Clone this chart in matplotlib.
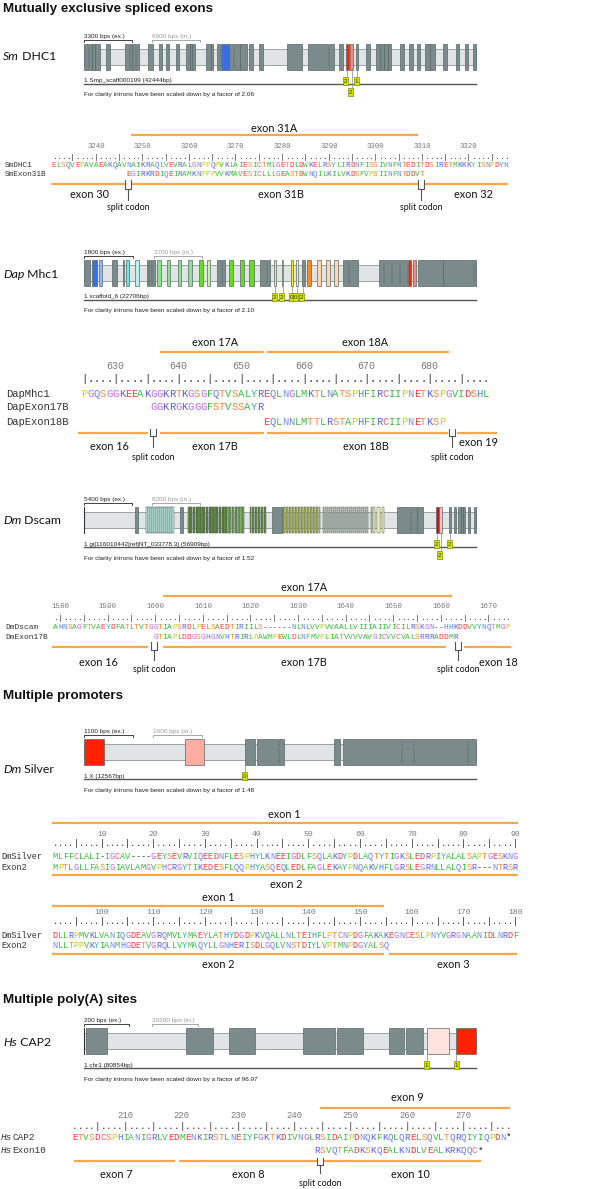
import matplotlib.pyplot as plt
from matplotlib.patches import Rectangle

W, H = 600, 1189

# ---------------- gene structures ----------------
# exon positions in map units along the drawn (intron-scaled) gene track
TRACK = (252, 1428)

sm_exons = [(252, 265, 'g'), (266, 275, 'g'), (276, 285, 'g'), (286, 300, 'g'), (318, 330, 'g'),
            (375, 388, 'g'), (389, 396, 'g'), (397, 405, 'g'), (408, 418, 'g'), (444, 460, 'g'),
            (476, 486, 'g'), (497, 507, 'g'), (528, 538, 'g'), (559, 570, 'g'), (571, 576, 'g'),
            (577, 585, 'g'), (619, 632, 'g'), (633, 640, 'g'), (650, 660, 'g'), (662, 686, 'blue'),
            (688, 700, 'g'), (701, 720, 'g'), (721, 740, 'g'), (748, 760, 'g'), (777, 790, 'g'),
            (862, 905, 'g'), (924, 985, 'g'), (988, 1003, 'g'), (1018, 1028, 'g'), (1037, 1047, 'red'),
            (1050, 1060, 'lred'), (1068, 1075, 'g'), (1098, 1110, 'g'), (1128, 1140, 'g'),
            (1141, 1152, 'g'), (1153, 1163, 'g'), (1164, 1174, 'g'), (1199, 1212, 'g'),
            (1228, 1240, 'g'), (1250, 1260, 'g'), (1276, 1290, 'g'), (1291, 1305, 'g'),
            (1329, 1340, 'g'), (1367, 1377, 'g'), (1395, 1405, 'g'), (1418, 1428, 'g')]
sm_marks = [(1042, 1030, 0, '2'), (1055, 1043, 1, '2'), (1071.5, 1062, 0, '1')]

dap_exons = [(252, 270, 'g'), (276, 290, 'blue'), (296, 307, 'lblue'), (337, 350, 'g'), (368, 373, 'g'),
             (378, 388, 'cyan'), (405, 416, 'lcyan'), (440, 445, 'g'), (447, 452, 'g'), (455, 464, 'g'),
             (472, 482, 'lgreen'), (500, 510, 'lgreen'), (533, 543, 'lgreen'), (565, 575, 'lgreen'),
             (597, 608, 'bgreen'), (620, 630, 'pgreen'), (652, 664, 'g'), (667, 675, 'g'),
             (687, 700, 'bgreen'), (720, 733, 'bgreen'), (748, 762, 'bgreen'), (781, 797, 'g'),
             (800, 810, 'g'), (822, 828, 'pyg'), (845, 850, 'pyg'), (872, 878, 'yellow'),
             (888, 895, 'pyellow'), (905, 915, 'g'), (922, 932, 'orange'), (952, 962, 'peach'),
             (978, 990, 'peach'), (1003, 1013, 'peach'), (1030, 1045, 'g'), (1047, 1073, 'g'),
             (1138, 1150, 'g'), (1153, 1173, 'g'), (1175, 1197, 'g'), (1200, 1220, 'g'),
             (1224, 1232, 'red'), (1238, 1247, 'lred'), (1253, 1328, 'g'), (1330, 1420, 'g'),
             (1422, 1428, 'g')]
dap_marks = [(825, 815, 0, '2'), (847.5, 838, 0, '2'), (875, 866, 0, '0'), (891.5, 880, 0, '0'),
             (910, 897, 0, '2')]

dscam_exons = [(405, 415, 'g'), (541, 548, 'g'), (815, 845, 'g'), (1190, 1230, 'g'), (1232, 1250, 'g'),
               (1252, 1268, 'g'), (1308, 1316, 'dred'), (1318, 1325, 'pink'), (1347, 1353, 'g'),
               (1362, 1368, 'g'), (1375, 1382, 'g'), (1383, 1389, 'g'), (1390, 1395, 'g'),
               (1405, 1410, 'g'), (1422, 1428, 'g')]
dscam_cyan = [437, 443, 449, 455, 462, 468, 474, 480, 486, 492, 498, 504, 510, 516]
dscam_green_dark = [565, 569, 573.5, 578, 582, 586.5, 591, 595, 599.5, 604, 608, 612.5, 617, 621,
                    625.5, 630, 634, 638.5, 643, 647, 651.5, 656, 660, 664.5, 669, 673, 677.5]
dscam_green_light = [682, 686, 690.5, 695, 699, 703.5, 708, 712, 716.5, 721, 725, 729.5]
dscam_green2 = [750, 754.5, 759, 763.5, 768, 772.5, 777, 781.5, 786, 790.5, 795]
dscam_yellow = [848, 852.5, 857, 861.5, 866, 870.5, 875, 879.5, 884, 888.5, 893, 897.5, 902, 906.5,
                911, 915.5, 920, 924.5, 929, 933.5, 938, 942.5, 947, 951.5, 956]
dscam_pale = [968, 974, 980, 986, 992, 998, 1004, 1010, 1016, 1022, 1028, 1034, 1040, 1046, 1052,
              1058, 1064, 1070, 1076, 1082, 1088, 1094, 1100, 1112, 1119]
dscam_pale_wide = [1132, 1145]
dscam_marks = [(1312, 1303, 0, '2'), (1350, 1340, 0, '2'), (1321.5, 1310, 1, '2')]

silver_exons = [(252, 312, 'red'), (555, 613, 'spink'), (735, 765, 'g'), (770, 833, 'g'), (838, 853, 'g'),
                (1003, 1020, 'g'), (1030, 1203, 'g'), (1207, 1238, 'g'), (1242, 1400, 'g'),
                (1405, 1428, 'g')]
silver_marks = [(735, 726, 0, '0')]

cap2_exons = [(258, 320, 'g'), (557, 638, 'g'), (687, 765, 'g'), (910, 1005, 'g'), (1010, 1088, 'g'),
              (1168, 1212, 'g'), (1218, 1268, 'g'), (1280, 1347, 'ppink'), (1368, 1428, 'red')]
cap2_marks = [(1280, 1272, 0, '1'), (1368, 1362, 0, '1')]

# ---------------- alignments ----------------
sm_first = 3231
sm_names = ['SmDHC1', 'SmExon31B']
sm_seqs = ['ELSQVEPAVAEAKQAVNAIKRAQLVEVRALGNPPQPVKLAIESICTMLGETDLDWKELRSYLIRDNFISSIVNFNTEDITDSIRETMKKKYISNPDYN',
           'EGIRKRDIQEIRAMKNPPPVVKMAVESICLLLGEASTDWNQILKILVKDSFVPSIINFNTDDVT']
sm_offsets = [0, 16]
sm_top = [('exon 31A', 3247.5, 3309.2, 3278.3)]
sm_bottom = [(3230.3, 3328.5)]
sm_labels = [('exon 30', 3238.6), ('exon 31B', 3279.8), ('exon 32', 3321.1)]
sm_splits = [3246.9, 3309.8]

dap_first = 625
dap_names = ['DapMhc1', 'DapExon17B', 'DapExon18B']
dap_seqs = ['PGQSGGKEEAKGGKRTKGSGFQTVSALYREQLNGLMKTLNATSPHFIRCIIPNETKSPGVIDSHL',
            'GGKRGKGGGFSTVSSAYR',
            'EQLNNLMTTLRSTAPHFIRCIIPNETKSP']
dap_offsets = [0, 11, 29]
dap_top = [('exon 17A', 637.1, 653.6, 645.8), ('exon 18A', 654.2, 683.1, 669.8)]
dap_bottom = [(624.0, 635.2), (637.1, 653.6), (654.2, 682.9), (684.4, 690.8)]
dap_labels = [('exon 16', 629.1), ('exon 17B', 645.8), ('exon 18B', 669.8), ('exon 19', 687.8)]
dap_splits = [636.0, 683.6]

dm_first = 1579
dm_names = ['DmDscam', 'DmExon17B']
dm_seqs = ['AHNSAGFTVAEYDFATLTVTGGTIAPSRDLPELSAEDTIRIILS------NLNLVVPVVAALLVIIIAIIVICILRSKGN--HHKDDVVYNQTMGP',
           'GTIAPLDDGSGHGNVHTRIRLPAWMPEWLDLNFMVPLIATVVVVAVGICVVCVALSRRRADDMR']
dm_offsets = [0, 21]
dm_top = [('exon 17A', 1601.5, 1662.2, 1631.2)]
dm_bottom = [(1578.2, 1598.5), (1601.5, 1661.0), (1664.7, 1674.7)]
dm_labels = [('exon 16', 1588.0), ('exon 17B', 1631.1), ('exon 18', 1672.0)]
dm_splits = [1599.7, 1663.6]

silver_names = ['DmSilver', 'Exon2']
silver1_first = 1
silver1_seqs = ['MLFFCLALI-IGCAV----GEYSEVRVIQEEDNFLESPHYLKNEEIGDLFSQLAKDYPDLAQTYTIGKSLEDRPIYALALSAPTGESKNG',
                'MPTLGLLFASIGIAVLAMGVPHCRGYTIKEDESFLQQPHYASQEQLEDLFAGLEKAYPNQAKVHFLGRSLEGRNLLALQISR---NTRSR']
silver1_top = [('exon 1', 0.43, 90.5, 45.3)]
silver1_bottom = [(0.43, 90.5)]
silver1_labels = [('exon 2', 45.6)]
silver2_first = 91
silver2_seqs = ['DLLRPMVKLVANIQGDEAVGRQMVLYMAEYLATHYDGDPKVQALLNLTEIHFLPTCNPDGFAKAKEGNCESLPNYVGRGNAANIDLNRDF',
                'NLLTPPVKYIANMHGDETVGRQLLVYMAQYLLGNHERISDLGQLVNSTDIYLVPTMNPDGYALSQ']
silver2_top = [('exon 1', 90.4, 154.6, 122.6)]
silver2_bottom = [(90.4, 154.6), (155.5, 180.3)]
silver2_labels = [('exon 2', 122.6), ('exon 3', 168.0)]

cap2_first = 201
cap2_names = [('Hs', 'CAP2'), ('Hs', 'Exon10')]
cap2_seqs = ['ETVSDCSPHIANIGRLVEDMENKIRSTLNEIYFGKTKDIVNGLRSIDAIPDNQKFKQLQRELSQVLTQRQIYIQPDN*',
             'RSVQTFADKSKQEALKNDLVEALKRKQQC*']
cap2_offsets = [0, 43]
cap2_top = [('exon 9', 244.5, 278.2, 260.0)]
cap2_bottom = [(200.8, 218.8), (219.4, 273.2)]
cap2_labels = [('exon 7', 208.4), ('exon 8', 231.8), ('exon 10', 260.5)]
cap2_splits = [244.5]

# ---------------- styles ----------------
EXON_COL = {'g': '#7b8b8b', 'blue': '#3b6fe0', 'lblue': '#9ab6f2', 'cyan': '#6ee6e6',
            'lcyan': '#b8f2ee', 'lgreen': '#8ee28e', 'bgreen': '#66dd22', 'pgreen': '#c4f0a8',
            'pyg': '#d6f09a', 'yellow': '#eef020', 'pyellow': '#f6f6a0', 'orange': '#ff8a1e',
            'peach': '#ffd6ae', 'red': '#ff2200', 'lred': '#f28a80', 'dred': '#cc1111',
            'pink': '#f2c4c4', 'spink': '#ffaca2', 'ppink': '#fde3de'}
AA_COL = {}
for a in 'AVLIMFW':
    AA_COL[a] = '#3dbb3d'
for a in 'DE':
    AA_COL[a] = '#ee3b3b'
for a in 'KR':
    AA_COL[a] = '#5a5aee'
for a in 'ST':
    AA_COL[a] = '#f28a3a'
AA_COL.update({'H': '#4f86e8', 'N': '#7b8cf0', 'Q': '#6678ee', 'G': '#c066ee', 'P': '#cccc18',
               'C': '#f0607a', 'Y': '#2fb5a5', '-': '#444444', '*': '#222222'})
ORANGE = '#f7a94a'
MONO = 'Liberation Mono'
SANS = 'Liberation Sans'
LAB = 'Lato'
EXON_FS = 7.8
SMALL_FS = 4.6

fig = plt.figure(figsize=(6, 11.89), dpi=100)
base = fig.add_axes([0, 0, 1, 1])
base.set_xlim(0, W)
base.set_ylim(H, 0)
base.axis('off')
renderer = fig.canvas.get_renderer()


def layer(u_a, px_a, u_b, px_b):
    # full-figure axes: data x u_a sits at pixel px_a, u_b at px_b; y in pixels
    ax = fig.add_axes([0, 0, 1, 1])
    k = (u_b - u_a) / (px_b - px_a)
    ax.set_xlim(u_a - px_a * k, u_a + (W - px_a) * k)
    ax.set_ylim(H, 0)
    ax.axis('off')
    ax.patch.set_visible(False)
    return ax


def mixed(x, y, it, rest, **kw):
    t = base.text(x, y, it, style='italic', **kw)
    bb = t.get_window_extent(renderer=renderer)
    base.text(x + bb.width, y, rest, **kw)


def gene_track(T, sp, gname, label_y, exons, marks, gid, factor, ex_bar, in_bar,
               clusters=(), start_line=False):
    ax = layer(TRACK[0], 84, TRACK[1], 476)
    mixed(3, label_y, sp, gname, fontsize=8.8, family=LAB, va='center', color='#111')
    # scale bars
    x0, x1 = TRACK[0], ex_bar[0]
    ax.plot([x0, x0, x1, x1], [T - 2.5, T - 4.5, T - 4.5, T - 2.5], color='#222', lw=0.6)
    ax.text(x0, T - 6.3, ex_bar[1], fontsize=SMALL_FS, family=SANS, color='#222', va='baseline')
    x0, x1 = in_bar[0], in_bar[1]
    ax.plot([x0, x0, x1, x1], [T - 2.5, T - 4.5, T - 4.5, T - 2.5], color='#999', lw=0.6)
    ax.text(x0, T - 6.3, in_bar[2], fontsize=SMALL_FS, family=SANS, color='#999', va='baseline')
    # intron band
    ax.add_patch(Rectangle((TRACK[0], T + 5), TRACK[1] - TRACK[0], 16, fc='#e0e4e4',
                           ec='#8c9898', lw=0.6))
    for s, e, c in exons:
        ax.add_patch(Rectangle((s, T), e - s, 26, fc=EXON_COL[c], ec='#586868', lw=0.5))
    for starts, wd, col in clusters:
        for s in starts:
            ax.add_patch(Rectangle((s, T), wd, 26, fc=col, ec='#4a5a4a', lw=0.35))
    if start_line:
        ax.plot([253, 253], [T, T + 26], color='#333', lw=0.8)
    ax.plot(TRACK, [T + 40, T + 40], color='#555', lw=1.0)
    ax.text(TRACK[0], T + 38.3, gid, fontsize=SMALL_FS, family=SANS, color='#222', va='baseline')
    ax.text(TRACK[0], T + 52.3, 'For clarity introns have been scaled down by a factor of ' + factor,
            fontsize=SMALL_FS, family=SANS, color='#222', va='baseline')
    for ex_x, bx, row, num in marks:
        y0 = T + (33 if row == 0 else 44)
        ax.plot([ex_x, ex_x], [T + 26, y0], color='#888', lw=0.5, zorder=4)
        ax.add_patch(Rectangle((bx, y0), 15, 8, fc='#d4e800', ec='#7d8c00', lw=0.5, zorder=5))
        ax.text(bx + 7.5, y0 + 4.3, num, fontsize=4.6, family=SANS, ha='center', va='center',
                color='#333', zorder=6)


def bracket(ax, s, w, y_top, y_bot, y_stem):
    hw = 2.8 / w
    ax.add_patch(Rectangle((s - hw, y_top), 2 * hw, y_bot - y_top, fc='white', ec='none', zorder=3))
    ax.plot([s - hw, s - hw, s + hw, s + hw], [y_top, y_bot, y_bot, y_top], color='#555', lw=0.8, zorder=4)
    ax.plot([s, s], [y_bot, y_stem], color='#555', lw=0.8, zorder=4)


def alignment(first, c0, w, names, seqs, offsets, y_num, y_dots, y_rows, name_x,
              top, y_top_lbl, y_top_line, bottom, y_bot_line, labels, y_lbl,
              splits=(), br=None, y_split=None, label_dy=None):
    ax = layer(first, c0, first + 1, c0 + w)
    fs = w / 0.6 * 0.72
    em = fs * 100 / 72
    last = first + max(o + len(s) for o, s in zip(offsets, seqs)) - 1
    for p in range(first, last + 1):
        if p % 10 == 0:
            ax.text(p, y_num, str(p), ha='center', va='center', fontsize=fs * 0.95,
                    color='#7a7a7a', family=MONO)
        ax.text(p, y_dots + 0.33 * em, '|' if p % 5 == 0 else '.', ha='center', va='baseline',
                fontsize=fs, color='#333', family=MONO)
    for name, seq, off, y in zip(names, seqs, offsets, y_rows):
        yb = y + 0.36 * em
        for i, ch in enumerate(seq):
            ax.text(first + off + i, yb, ch, ha='center', va='baseline', fontsize=fs,
                    color=AA_COL.get(ch, '#333'), family=MONO)
        if isinstance(name, tuple):
            mixed(name_x, yb, name[0], name[1], fontsize=fs, family=MONO, color='#333', va='baseline')
        else:
            base.text(name_x, yb, name, fontsize=fs, family=MONO, color='#333', va='baseline')
    for txt, a, b, lp in top:
        ax.plot([a, b], [y_top_line, y_top_line], color=ORANGE, lw=1.6, solid_capstyle='butt')
        ax.text(lp, y_top_lbl, txt, ha='center', va='center', fontsize=EXON_FS, family=LAB, color='#111')
    for a, b in bottom:
        ax.plot([a, b], [y_bot_line, y_bot_line], color=ORANGE, lw=1.6, solid_capstyle='butt')
    for j, (txt, lp) in enumerate(labels):
        dy = label_dy[j] if label_dy else 0
        ax.text(lp, y_lbl + dy, txt, ha='center', va='center', fontsize=EXON_FS, family=LAB, color='#111')
    for s in splits:
        bracket(ax, s, w, br[0], br[1], br[2])
        ax.text(s, y_split, 'split codon', ha='center', va='center', fontsize=6.4, family=LAB,
                color='#111')


# titles
for y, t in [(9, 'Mutually exclusive spliced exons'), (696, 'Multiple promoters'),
             (1000, 'Multiple poly(A) sites')]:
    base.text(3, y, t, fontsize=9.6, fontweight='bold', family=SANS, va='center', color='#111')

# ---- Sm DHC1 ----
gene_track(44, 'Sm', ' DHC1', 57, sm_exons, sm_marks, '1 Smp_scaff000199 (42444bp)', '2.06',
           (395, '3300 bps (ex.)'), (457, 600, '6900 bps (in.)'))
alignment(sm_first, 54.0, 4.66, sm_names, sm_seqs, sm_offsets, 146, 156, [164, 173], 4.3,
          sm_top, 128, 135, sm_bottom, 184, sm_labels, 195,
          splits=sm_splits, br=(180, 189, 200), y_split=208)

# ---- Dap Mhc1 ----
gene_track(260, 'Dap', ' Mhc1', 274, dap_exons, dap_marks, '1 scaffold_6 (22706bp)', '2.10',
           (398, '1800 bps (ex.)'), (462, 605, '3700 bps (in.)'))
alignment(dap_first, 84.1, 6.28, dap_names, dap_seqs, dap_offsets, 366, 379, [393.3, 406.7, 421], 6,
          dap_top, 342, 352.3, dap_bottom, 433.3, dap_labels, 447,
          splits=dap_splits, br=(428.5, 436, 447), y_split=457, label_dy=[0, 0, 0, -4])

# ---- Dm Dscam ----
dscam_clusters = [(dscam_cyan, 5.5, '#c4f2ec'), (dscam_green_dark, 3.6, '#6b9a45'),
                  (dscam_green_light, 3.6, '#94cc70'), (dscam_green2, 3.6, '#79a852'),
                  (dscam_yellow, 3.8, '#eef25a'), (dscam_pale, 4.5, '#f5f5b5'),
                  (dscam_pale_wide, 8, '#f5f5b5')]
gene_track(507.3, 'Dm', ' Dscam', 520, dscam_exons, dscam_marks,
           '1 gi|116010442|ref|NT_033778.3| (56909bp)', '1.52',
           (395, '5400 bps (ex.)'), (457, 600, '8200 bps (in.)'),
           clusters=dscam_clusters, start_line=True)
alignment(dm_first, 55.6, 4.76, dm_names, dm_seqs, dm_offsets, 606, 617.3, [626, 636], 5,
          dm_top, 587.7, 596, dm_bottom, 647.3, dm_labels, 662.7,
          splits=dm_splits, br=(642, 650, 660), y_split=669.3)

# ---- Dm Silver ----
gene_track(739.3, 'Dm', ' Silver', 769.3, silver_exons, silver_marks, '1 X (12567bp)', '1.48',
           (398, '1100 bps (ex.)'), (460, 605, '1600 bps (in.)'))
alignment(silver1_first, 55.3, 5.17, silver_names, silver1_seqs, [0, 0], 834, 843.3, [856, 867.3], 1.7,
          silver1_top, 815, 823, silver1_bottom, 875, silver1_labels, 884)
alignment(silver2_first, 55.3, 5.17, silver_names, silver2_seqs, [0, 0], 912.7, 921, [934.7, 945], 1.7,
          silver2_top, 897.7, 905.7, silver2_bottom, 954, silver2_labels, 964)

# ---- Hs CAP2 ----
gene_track(1028.3, 'Hs', ' CAP2', 1042.3, cap2_exons, cap2_marks, '1 chr1 (80854bp)', '96.97',
           (388, '200 bps (ex.)'), (455, 595, '20200 bps (in.)'), start_line=True)
alignment(cap2_first, 75.0, 5.63, cap2_names, cap2_seqs, cap2_offsets, 1115, 1126, [1136.7, 1150], 0.9,
          cap2_top, 1097.7, 1108.3, cap2_bottom, 1161, cap2_labels, 1175,
          splits=cap2_splits, br=(1157.5, 1165, 1173), y_split=1183.3)

fig.savefig('out.png', dpi=100)
